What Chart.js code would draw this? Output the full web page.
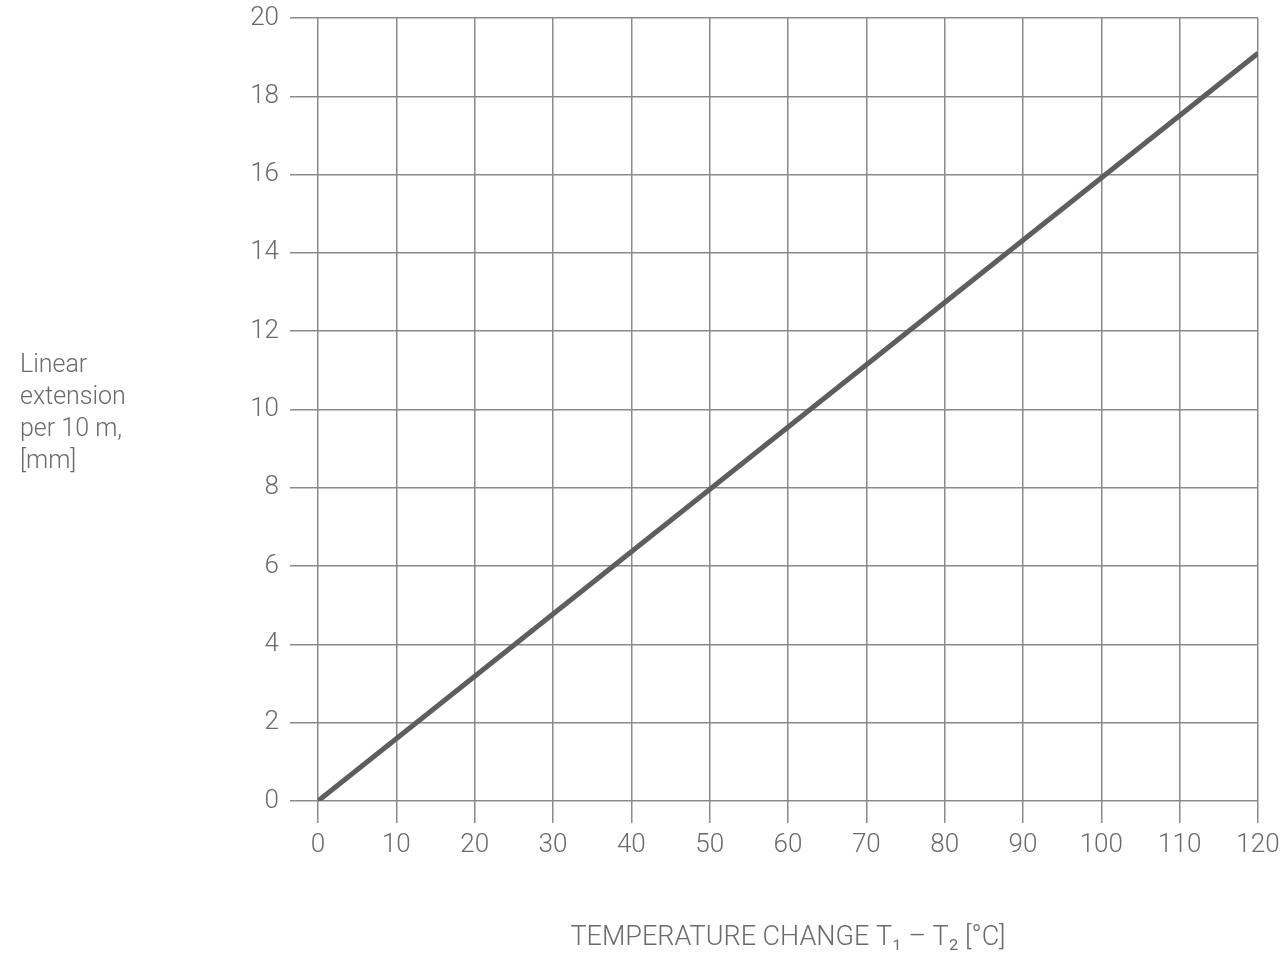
<!DOCTYPE html>
<html>
<head>
<meta charset="utf-8">
<script src="https://cdn.jsdelivr.net/npm/chart.js@4.4.1/dist/chart.umd.min.js"></script>
<style>
  html, body { margin: 0; padding: 0; background: #ffffff; }
  #wrap { width: 1287px; height: 955px; position: relative; }
</style>
</head>
<body>
<div id="wrap"><canvas id="c" width="1287" height="955"></canvas></div>
<script>
// Data
const temperatureChange = [0, 120];          // T1 - T2 [°C]
const linearExtension = [0, 19.1];            // mm per 10 m
const xTicks = [0, 10, 20, 30, 40, 50, 60, 70, 80, 90, 100, 110, 120];
const yTicks = [0, 2, 4, 6, 8, 10, 12, 14, 16, 18, 20];
const yTitleLines = ['Linear', 'extension', 'per 10 m,', '[mm]'];
const xTitle = 'TEMPERATURE CHANGE T\u2081 \u2013 T\u2082 [°C]';

const FONT = 'Roboto, "Liberation Sans", sans-serif';
const TEXT = '#6a6a6a';
const GRID = '#8a8a8a';

const titlesPlugin = {
  id: 'titles',
  afterDraw(chart) {
    const ctx = chart.ctx;
    const area = chart.chartArea;
    ctx.save();
    ctx.fillStyle = TEXT;
    ctx.font = '300 25px ' + FONT;
    ctx.textAlign = 'left';
    ctx.textBaseline = 'middle';
    yTitleLines.forEach((t, i) => ctx.fillText(t, 20, 366 + i * 32));
    ctx.textAlign = 'center';
    ctx.font = '300 27px ' + FONT;
    ctx.fillText(xTitle, (area.left + area.right) / 2, 938);
    ctx.restore();
  }
};

new Chart(document.getElementById('c'), {
  type: 'scatter',
  data: {
    datasets: [{
      data: temperatureChange.map((x, i) => ({ x: x, y: linearExtension[i] })),
      showLine: true,
      borderColor: '#5e5e5e',
      borderWidth: 5,
      pointRadius: 0,
      fill: false
    }]
  },
  options: {
    responsive: false,
    animation: false,
    layout: { padding: { top: 18, right: 29, left: 0, bottom: 0 } },
    plugins: { legend: { display: false }, tooltip: { enabled: false } },
    scales: {
      x: {
        type: 'linear',
        min: 0, max: 120,
        afterBuildTicks: (s) => { s.ticks = xTicks.map(v => ({ value: v })); },
        afterFit: (s) => { s.height = 955 - 801; s.paddingLeft = 0; s.paddingRight = 0; },
        border: { display: false },
        grid: { color: GRID, lineWidth: 1.5, tickLength: 22, drawTicks: true },
        ticks: { color: TEXT, font: { family: FONT, size: 26, weight: 300 }, padding: 7, maxRotation: 0 }
      },
      y: {
        type: 'linear',
        min: 0, max: 20,
        afterBuildTicks: (s) => { s.ticks = yTicks.map(v => ({ value: v })); },
        afterFit: (s) => { s.width = 318; s.paddingTop = 0; s.paddingBottom = 0; },
        border: { display: false },
        grid: { color: GRID, lineWidth: 1.5, tickLength: 28, drawTicks: true },
        ticks: { color: TEXT, font: { family: FONT, size: 26, weight: 300 }, padding: 11 }
      }
    }
  },
  plugins: [titlesPlugin]
});
</script>
</body>
</html>
